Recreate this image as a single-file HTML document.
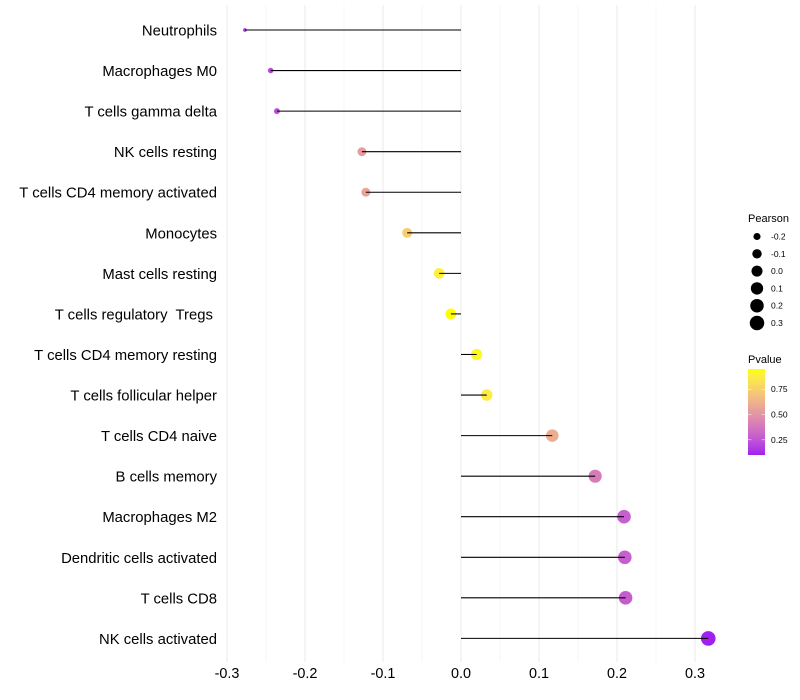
<!DOCTYPE html>
<html>
<head>
<meta charset="utf-8">
<title>Lollipop chart</title>
<style>
html,body{margin:0;padding:0;background:#fff;width:800px;height:700px;overflow:hidden}
svg{display:block;font-family:"Liberation Sans",sans-serif}
</style>
</head>
<body>
<svg id="chart" width="800" height="700" viewBox="0 0 800 700" xmlns="http://www.w3.org/2000/svg">
<defs><linearGradient id="pgrad" x1="0" y1="1" x2="0" y2="0"></linearGradient></defs>
</svg>
<script>
const categories = ["Neutrophils","Macrophages M0","T cells gamma delta","NK cells resting","T cells CD4 memory activated","Monocytes","Mast cells resting","T cells regulatory  Tregs ","T cells CD4 memory resting","T cells follicular helper","T cells CD4 naive","B cells memory","Macrophages M2","Dendritic cells activated","T cells CD8","NK cells activated"];
const pearson = [-0.277,-0.244,-0.236,-0.127,-0.122,-0.069,-0.028,-0.013,0.020,0.033,0.117,0.172,0.209,0.210,0.211,0.317];
const pvalues = [0.17,0.21,0.23,0.53,0.56,0.74,0.89,0.95,0.93,0.87,0.60,0.40,0.29,0.29,0.28,0.10];
const xTicks = [-0.3,-0.2,-0.1,0.0,0.1,0.2,0.3];
const xMinorTicks = [-0.25,-0.15,-0.05,0.05,0.15,0.25];
const sizeLegendValues = [-0.2,-0.1,0.0,0.1,0.2,0.3];
const colorLegendTicks = [0.25,0.50,0.75];

const svg = document.getElementById('chart');
const NS = 'http://www.w3.org/2000/svg';
const xScale = v => 461 + v * 780;
const yScale = i => 30 + i * 40.56;
const radius = v => 8.86 * Math.pow(Math.max(0.001, v + 0.295), 0.388);

function srgbToLin(c){c/=255;return c<=0.04045?c/12.92:Math.pow((c+0.055)/1.055,2.4);}
function linToSrgb(c){c=Math.max(0,Math.min(1,c));return Math.round(255*(c<=0.0031308?12.92*c:1.055*Math.pow(c,1/2.4)-0.055));}
function toLab(rgb){
  const r=srgbToLin(rgb[0]),g=srgbToLin(rgb[1]),b=srgbToLin(rgb[2]);
  const X=(0.4124*r+0.3576*g+0.1805*b)/0.95047,Y=0.2126*r+0.7152*g+0.0722*b,Z=(0.0193*r+0.1192*g+0.9505*b)/1.08883;
  const f=t=>t>0.008856?Math.cbrt(t):7.787*t+16/116;
  return [116*f(Y)-16,500*(f(X)-f(Y)),200*(f(Y)-f(Z))];
}
function fromLab(l){
  const fy=(l[0]+16)/116,fx=fy+l[1]/500,fz=fy-l[2]/200;
  const g=t=>t*t*t>0.008856?t*t*t:(t-16/116)/7.787;
  const X=g(fx)*0.95047,Y=g(fy),Z=g(fz)*1.08883;
  return 'rgb('+linToSrgb(3.2406*X-1.5372*Y-0.4986*Z)+','+linToSrgb(-0.9689*X+1.8758*Y+0.0415*Z)+','+linToSrgb(0.0557*X-0.2040*Y+1.0570*Z)+')';
}
const labLow = toLab([160,32,240]), labHigh = toLab([255,255,0]);
const pMin = 0.10, pMax = 0.95;
function pColor(p){
  const t = Math.max(0, Math.min(1, (p - pMin) / (pMax - pMin)));
  return fromLab(labLow.map((v, i) => v + (labHigh[i] - v) * t));
}
function mk(tag, attrs, parent){
  const el = document.createElementNS(NS, tag);
  for (const k in attrs) el.setAttribute(k, attrs[k]);
  (parent || svg).appendChild(el);
  return el;
}

/* grid */
const gridTop = 5, gridBottom = 662;
xMinorTicks.forEach(v => {
  const gl = mk('line', {x1:xScale(v), x2:xScale(v), y1:gridTop, y2:gridBottom, stroke:'#f4f4f4', 'stroke-width':0.7});
  
  
});
xTicks.forEach(v => {
  const gl = mk('line', {x1:xScale(v), x2:xScale(v), y1:gridTop, y2:gridBottom, stroke:'#efefef', 'stroke-width':1.4});
  
  
});

/* points */
pearson.forEach((v, i) => {
  const c = mk('circle', {cx:xScale(v), cy:yScale(i), r:radius(v), fill:pColor(pvalues[i])});
  
  
});
/* stems */
pearson.forEach((v, i) => {
  const l = mk('line', {x1:xScale(0), x2:xScale(v), y1:yScale(i), y2:yScale(i), stroke:'#000', 'stroke-width':1.07});
  
  
});

/* y labels */
categories.forEach((name, i) => {
  const t = mk('text', {x:217, y:yScale(i) + 5.5, 'text-anchor':'end', 'font-size':14.85, fill:'#000'});
  t.setAttribute('xml:space', 'preserve');
  t.style.whiteSpace = 'pre';
  t.textContent = name;
  
  
});

/* x labels */
xTicks.forEach(v => {
  const t = mk('text', {x:xScale(v), y:678, 'text-anchor':'middle', 'font-size':14.4, fill:'#000'});
  t.textContent = v.toFixed(1);
  
  
});

/* size legend */
const sizeTitle = mk('text', {x:748, y:222, 'font-size':11, fill:'#000'});
sizeTitle.textContent = 'Pearson';


sizeLegendValues.forEach((v, i) => {
  const y = 236.5 + i * 17.3;
  const c = mk('circle', {cx:757, cy:y, r:radius(v), fill:'#000'});
  
  
  const t = mk('text', {x:771, y:y + 3, 'font-size':8.5, fill:'#000'});
  t.textContent = v.toFixed(1);
  
  
});

/* colour legend */
const colorTitle = mk('text', {x:748, y:363, 'font-size':11, fill:'#000'});
colorTitle.textContent = 'Pvalue';


const grad = document.getElementById('pgrad');
for (let k = 0; k <= 20; k++) {
  const p = pMin + (pMax - pMin) * k / 20;
  mk('stop', {offset:(k * 5) + '%', 'stop-color':pColor(p)}, grad);
}
const barTop = 369, barBottom = 455;
const pY = p => barBottom - (p - pMin) / (pMax - pMin) * (barBottom - barTop);
const bar = mk('rect', {x:748, y:barTop, width:17, height:barBottom - barTop, fill:'url(#pgrad)'});


colorLegendTicks.forEach(p => {
  const y = pY(p);
  const a = mk('line', {x1:748, x2:751.4, y1:y, y2:y, stroke:'#fff', 'stroke-width':0.5});
  
  
  const b = mk('line', {x1:761.6, x2:765, y1:y, y2:y, stroke:'#fff', 'stroke-width':0.5});
  
  
  const t = mk('text', {x:771, y:y + 3, 'font-size':8.5, fill:'#000'});
  t.textContent = p.toFixed(2);
  
  
});
</script>
</body>
</html>
